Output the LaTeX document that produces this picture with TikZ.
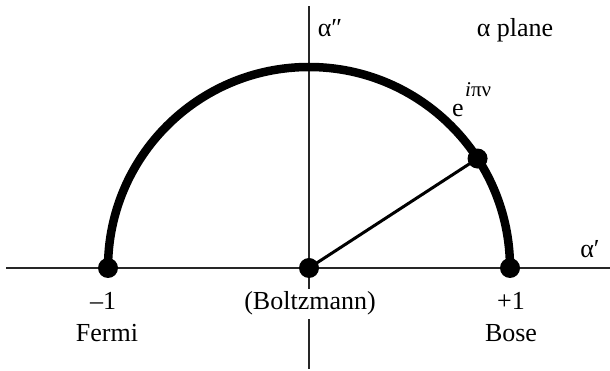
\documentclass[tikz,border=0pt]{standalone}
\usepackage{fontspec}
\setmainfont{Liberation Serif}
\usetikzlibrary{calc}
\begin{document}
\begin{tikzpicture}[x=1pt,y=1pt,
  axisline/.style={line width=1.8pt,black!85},
  bigarc/.style={line width=8.5pt},
  radline/.style={line width=3pt},
  dot/.style={circle,fill=black,inner sep=0pt,minimum size=20pt},
  lbl/.style={font=\fontsize{26}{30}\selectfont,inner sep=0pt,anchor=base}]
\useasboundingbox (0,0) rectangle (610,371);
% axes
\coordinate (xl) at (6,103);
\coordinate (xr) at (610,103);
\coordinate (yb) at (309,2);
\coordinate (yt) at (309,365);
\draw[axisline] (xl) -- (xr);
\draw[axisline] (yb) -- (yt);
% points
\coordinate (O) at (309,103);
\coordinate (L) at (108,103);
\coordinate (R) at (510,103);
\coordinate (P) at ($(O)+(33:201)$);
\draw[bigarc] (R) arc[start angle=0,end angle=180,radius=201];
\draw[radline] (O) -- (P);
\node[dot] (dL) at (L) {};
\node[dot] (dO) at (O) {};
\node[dot] (dR) at (R) {};
\node[dot] (dP) at (P) {};
% labels
\node[lbl] (a2) at (330,334) {α″};
\node[lbl] (ap) at (515,334) {α plane};
\node[lbl] (a1) at (590,113) {α′};
\node[lbl,anchor=base west] (ee) at (452,254) {e};
\node[font=\fontsize{21}{24}\selectfont,inner sep=0pt,anchor=base west] (ex) at (465,274) {\textit{i}πν};
\node[lbl] (m1) at (103,61) {–1};
\node[lbl] (fe) at (107,29) {Fermi};
\node[lbl,fill=white,inner xsep=1pt,inner ysep=3pt] (bo) at (310,61) {(Boltzmann)};
\node[lbl] (p1) at (511,61) {+1};
\node[lbl] (bs) at (511,29) {Bose};
\end{tikzpicture}
\end{document}
